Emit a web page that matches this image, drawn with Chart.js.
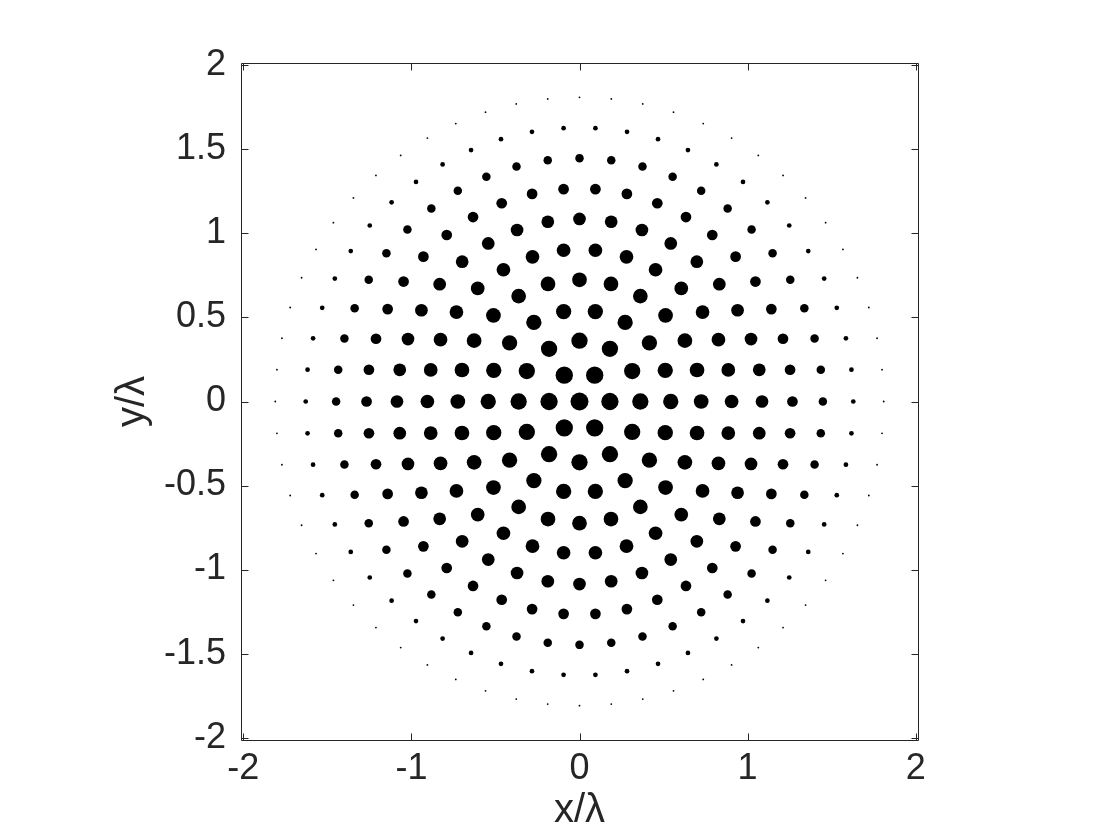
<!DOCTYPE html>
<html><head><meta charset="utf-8">
<script src="https://cdn.jsdelivr.net/npm/chart.js@4.4.1/dist/chart.umd.min.js"></script>
<style>html,body{margin:0;padding:0;background:#fff;overflow:hidden}#wrap{width:1120px;height:840px;position:relative}</style>
</head><body><div id="wrap"><canvas id="c" width="1120" height="840"></canvas></div>
<script>
// Concentric ring array: ring radius (in wavelengths),
// number of equally spaced elements on the ring (first one on +x axis),
// and marker diameter (px) of the elements on that ring.
const ringRadius = [0, 0.181, 0.362, 0.543, 0.724, 0.905, 1.086, 1.267, 1.448, 1.629, 1.81];
const ringCount  = [1, 6, 12, 18, 24, 30, 36, 42, 48, 54, 60];
const ringSize   = [18, 17.3, 16.3, 15.3, 14.7, 13.7, 12.7, 10.7, 8.5, 4.7, 1.8];
const xTicks = [-2, -1, 0, 1, 2];
const yTicks = [-2, -1.5, -1, -0.5, 0, 0.5, 1, 1.5, 2];

const pts = [], radii = [];
ringRadius.forEach((r, k) => {
  for (let j = 0; j < ringCount[k]; j++) {
    const a = 2 * Math.PI * j / ringCount[k];
    pts.push({x: r * Math.cos(a), y: r * Math.sin(a)});
    radii.push(ringSize[k] / 2);
  }
});

const FAM = '"Liberation Sans", Arial, Helvetica, sans-serif';
const INK = '#262626';

const boxPlugin = {
  id: 'box',
  afterDraw(chart) {
    const {ctx, chartArea: a, scales: {x, y}} = chart;
    ctx.save();
    ctx.strokeStyle = INK; ctx.lineWidth = 1;
    ctx.beginPath();
    const L = a.left + 0.5, R = a.right + 0.5, T = a.top + 0.5, B = a.bottom + 0.5;
    ctx.moveTo(L, T); ctx.lineTo(R, T); ctx.lineTo(R, B); ctx.lineTo(L, B); ctx.closePath();
    const tl = 7;
    xTicks.forEach(v => {
      const p = Math.round(x.getPixelForValue(v)) + 0.5;
      ctx.moveTo(p, B); ctx.lineTo(p, B - tl);
      ctx.moveTo(p, T); ctx.lineTo(p, T + tl);
    });
    yTicks.forEach(v => {
      const p = Math.round(y.getPixelForValue(v)) + 0.5;
      ctx.moveTo(L, p); ctx.lineTo(L + tl, p);
      ctx.moveTo(R, p); ctx.lineTo(R - tl, p);
    });
    ctx.stroke();
    ctx.restore();
  }
};

new Chart(document.getElementById('c'), {
  type: 'scatter',
  data: {datasets: [{
    data: pts,
    pointRadius: radii,
    pointHoverRadius: radii,
    backgroundColor: '#000',
    borderWidth: 0,
    pointStyle: 'circle'
  }]},
  options: {
    responsive: false, animation: false, devicePixelRatio: 1, events: [],
    layout: {padding: {left: 0, top: 63, right: 202, bottom: 0}},
    plugins: {legend: {display: false}, tooltip: {enabled: false}},
    scales: {
      x: {
        type: 'linear', min: -2.014, max: 2.014,
        afterBuildTicks: s => { s.ticks = xTicks.map(v => ({value: v})); },
        afterFit: s => { s.height = 100; },
        grid: {display: false, drawTicks: false}, border: {display: false},
        ticks: {font: {family: FAM, size: 36}, color: INK, padding: 7, maxRotation: 0, autoSkip: false, callback: v => String(v)},
        title: {display: true, text: 'x/λ', font: {family: FAM, size: 40}, color: INK, padding: {top: 0, bottom: 5}}
      },
      y: {
        type: 'linear', min: -2.014, max: 2.014,
        afterBuildTicks: s => { s.ticks = yTicks.map(v => ({value: v})); },
        afterFit: s => { s.width = 241; },
        grid: {display: false, drawTicks: false}, border: {display: false},
        ticks: {font: {family: FAM, size: 36}, color: INK, padding: 15, autoSkip: false, callback: v => String(v)},
        title: {display: true, text: 'y/λ', font: {family: FAM, size: 40}, color: INK, padding: {top: 109, bottom: 0}}
      }
    }
  },
  plugins: [boxPlugin]
});
</script></body></html>
